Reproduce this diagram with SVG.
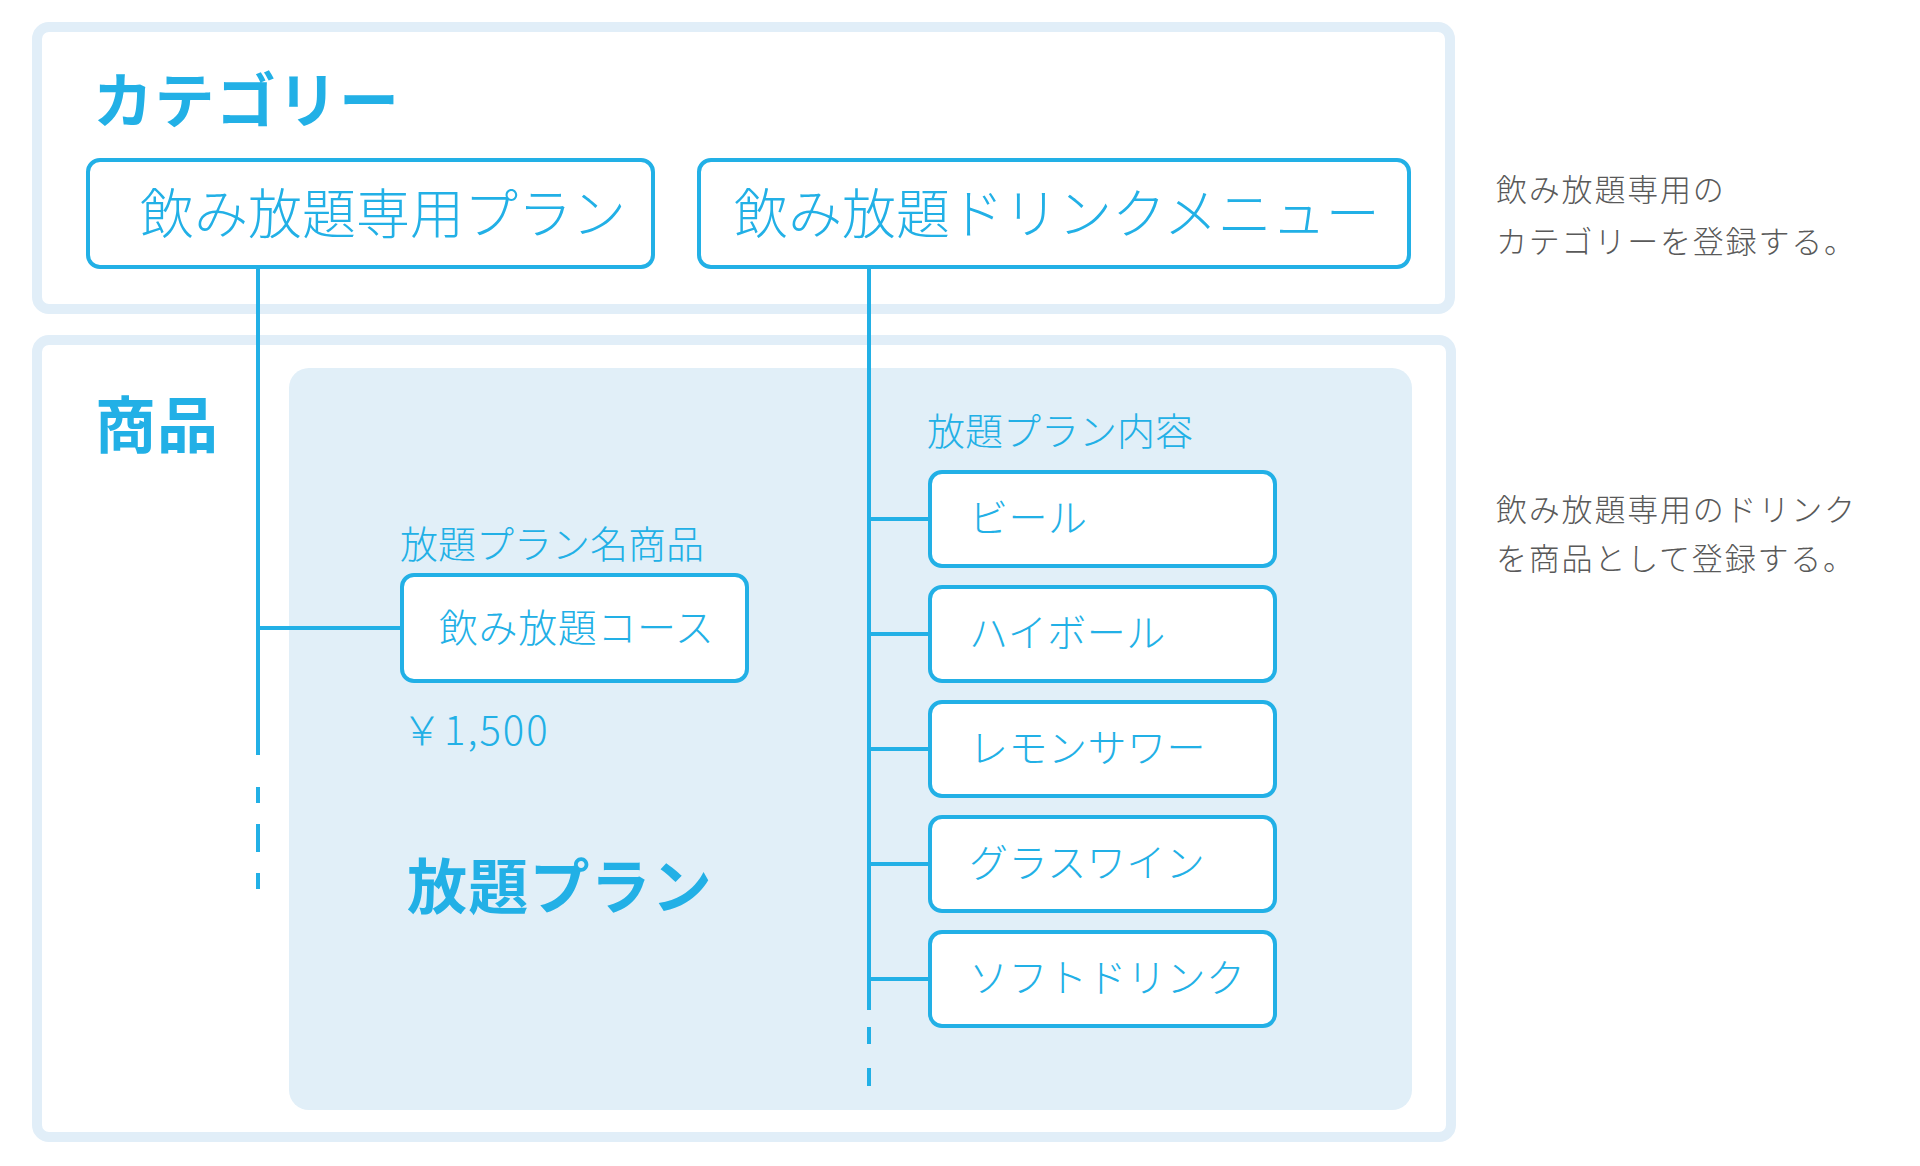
<svg xmlns="http://www.w3.org/2000/svg" width="1920" height="1166" viewBox="0 0 1920 1166">
<style>
.frame{fill:#ffffff;stroke:#e1eef8;stroke-width:10}
.node{fill:#ffffff;stroke:#22b0e6;stroke-width:4}
.line{stroke:#22b0e6;stroke-width:4;fill:none}
.t{font-family:"Noto Sans CJK JP","Noto Sans",sans-serif;fill:#22b0e6}
.thin{font-weight:300}
.bold{font-weight:700}
.note{font-family:"Noto Sans CJK JP","Noto Sans",sans-serif;fill:#595959;font-size:31px;font-weight:300;letter-spacing:1.8px}
</style>
<rect width="1920" height="1166" fill="#ffffff"/>
<g id="category-frame">
<rect class="frame" x="37" y="27" width="1413" height="282" rx="12"/>
<text class="t bold" x="93" y="123" font-size="60" letter-spacing="1.5">カテゴリー</text>
</g>
<g id="product-frame">
<rect class="frame" x="37" y="340" width="1414" height="797" rx="12"/>
<text class="t bold" x="95" y="448" font-size="61" letter-spacing="1">商品</text>
</g>
<g id="plan-area">
<rect x="289" y="368" width="1123" height="742" rx="20" fill="#e1eff8"/>
<text class="t bold" x="407" y="909" font-size="60" letter-spacing="1.2">放題プラン</text>
<text class="t thin" x="400" y="558" font-size="38">放題プラン名商品</text>
<text class="t thin" x="927" y="445" font-size="38">放題プラン内容</text>
<text class="t thin" x="402" y="745" font-size="40" letter-spacing="2">￥1,500</text>
</g>
<g id="connectors">
<line class="line" x1="258" y1="269" x2="258" y2="755"/>
<line class="line" x1="258" y1="787" x2="258" y2="803"/>
<line class="line" x1="258" y1="824" x2="258" y2="852"/>
<line class="line" x1="258" y1="873" x2="258" y2="889"/>
<line class="line" x1="258" y1="628" x2="402" y2="628"/>
<line class="line" x1="869" y1="269" x2="869" y2="1010"/>
<line class="line" x1="869" y1="1027" x2="869" y2="1044"/>
<line class="line" x1="869" y1="1068" x2="869" y2="1086"/>
<line class="line" x1="869" y1="519" x2="930" y2="519"/>
<line class="line" x1="869" y1="634" x2="930" y2="634"/>
<line class="line" x1="869" y1="749" x2="930" y2="749"/>
<line class="line" x1="869" y1="864" x2="930" y2="864"/>
<line class="line" x1="869" y1="979" x2="930" y2="979"/>
</g>
<g id="cat-plan">
<rect class="node" x="88" y="160" width="565" height="107" rx="12"/>
<text class="t thin" x="140" y="234" font-size="54">飲み放題専用プラン</text>
</g>
<g id="cat-drink">
<rect class="node" x="699" y="160" width="710" height="107" rx="12"/>
<text class="t thin" x="734" y="234" font-size="54">飲み放題ドリンクメニュー</text>
</g>
<g id="course">
<rect class="node" x="402" y="575" width="345" height="106" rx="12"/>
<text class="t thin" x="439" y="642" font-size="39" letter-spacing="0.6">飲み放題コース</text>
</g>
<g id="drink-beer">
<rect class="node" x="930" y="472" width="345" height="94" rx="12"/>
<text class="t thin" x="969" y="532" font-size="39" letter-spacing="0.5">ビール</text>
</g>
<g id="drink-highball">
<rect class="node" x="930" y="587" width="345" height="94" rx="12"/>
<text class="t thin" x="969" y="647" font-size="39" letter-spacing="0.5">ハイボール</text>
</g>
<g id="drink-lemon">
<rect class="node" x="930" y="702" width="345" height="94" rx="12"/>
<text class="t thin" x="969" y="762" font-size="39" letter-spacing="0.5">レモンサワー</text>
</g>
<g id="drink-wine">
<rect class="node" x="930" y="817" width="345" height="94" rx="12"/>
<text class="t thin" x="969" y="877" font-size="39" letter-spacing="0.5">グラスワイン</text>
</g>
<g id="drink-soft">
<rect class="node" x="930" y="932" width="345" height="94" rx="12"/>
<text class="t thin" x="969" y="992" font-size="39" letter-spacing="0.5">ソフトドリンク</text>
</g>
<g id="notes">
<text class="note" x="1496" y="201">飲み放題専用の</text>
<text class="note" x="1496" y="253">カテゴリーを登録する。</text>
<text class="note" x="1496" y="521">飲み放題専用のドリンク</text>
<text class="note" x="1496" y="570">を商品として登録する。</text>
</g>
</svg>
